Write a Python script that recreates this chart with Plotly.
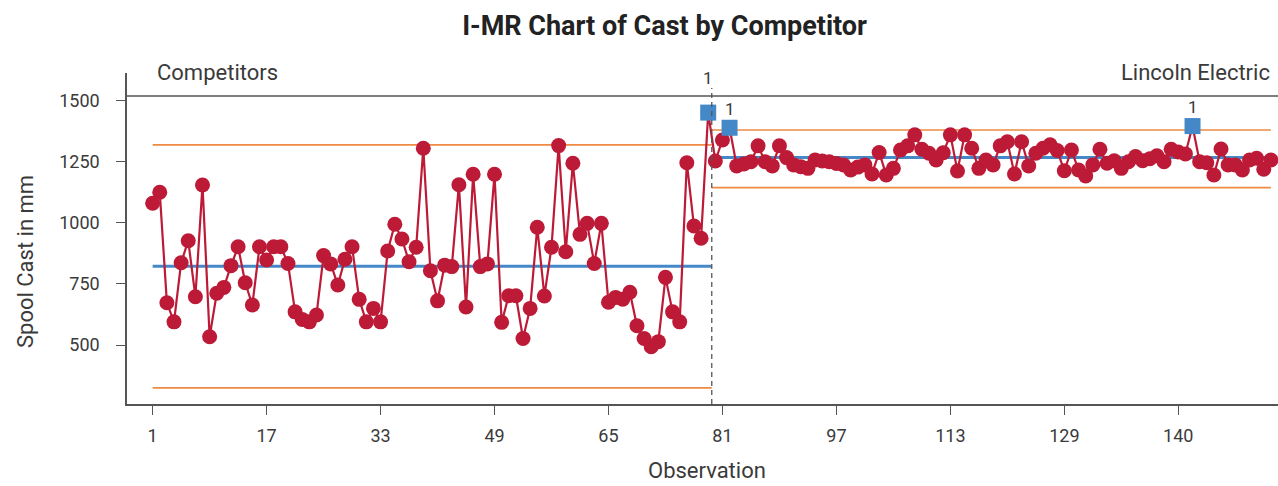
import plotly.graph_objects as go

# ---------------- data ----------------
group_names = ["Competitors", "Lincoln Electric"]

competitors_cast = [
    1080, 1125, 673, 595, 837, 927, 698, 1155, 534, 712,
    736, 825, 902, 755, 664, 902, 848, 902, 902, 834,
    636, 605, 595, 623, 866, 832, 746, 851, 902, 687,
    595, 650, 595, 885, 994, 934, 841, 900, 1305, 804,
    681, 827, 821, 1156, 656, 1199, 821, 832, 1199, 593,
    702, 702, 527, 650, 982, 701, 900, 1316, 882, 1244,
    953, 998, 834, 998, 675, 695, 688, 716, 579, 527,
    493, 514, 777, 636, 595, 1246, 987, 937, 1451,
]

lincoln_cast = [
    1253, 1339, 1389, 1233, 1241, 1250, 1315, 1250, 1233, 1315,
    1267, 1237, 1230, 1223, 1257, 1253, 1250, 1243, 1237, 1216,
    1228, 1237, 1200, 1288, 1196, 1223, 1298, 1315, 1360, 1301,
    1285, 1257, 1287, 1360, 1212, 1360, 1305, 1223, 1257, 1237,
    1315, 1332, 1200, 1332, 1233, 1285, 1305, 1319, 1296, 1213,
    1298, 1216, 1192, 1237, 1301, 1244, 1254, 1223, 1250, 1271,
    1254, 1262, 1274, 1250, 1301, 1290, 1282, 1396, 1250, 1246,
    1196, 1302, 1237, 1237, 1216, 1257, 1264, 1219, 1257,
]

center_lines = [822, 1267]
upper_limits = [1319, 1380]
lower_limits = [325, 1144]

x_tick_values = [1, 17, 33, 49, 65, 81, 97, 113, 129, 145]
x_tick_labels = ["1", "17", "33", "49", "65", "81", "97", "113", "129", "140"]
y_tick_values = [500, 750, 1000, 1250, 1500]

# ---------------- derived ----------------
values = competitors_cast + lincoln_cast
obs = list(range(1, len(values) + 1))
n1 = len(competitors_cast)
split = n1 + 0.5
segments = [(1, split), (split, len(values))]
group_of = [0] * n1 + [1] * len(lincoln_cast)

FONT = "Roboto, sans-serif"
RED = "#BC1A36"
BLUE = "#4588C8"
ORANGE = "#EE8A45"
AXIS = "#555555"
TXT = "#3a3a3a"

fig = go.Figure()

# control limits
for g, (x0, x1) in enumerate(segments):
    for lim in (upper_limits[g], lower_limits[g]):
        fig.add_trace(go.Scatter(x=[x0, x1], y=[lim, lim], mode="lines",
                                 line=dict(color=ORANGE, width=1.6),
                                 hoverinfo="skip", showlegend=False))
    fig.add_trace(go.Scatter(x=[x0, x1], y=[center_lines[g], center_lines[g]], mode="lines",
                             line=dict(color=BLUE, width=3),
                             hoverinfo="skip", showlegend=False))

# data line
fig.add_trace(go.Scatter(x=obs, y=values, mode="lines+markers",
                         line=dict(color=RED, width=2.2),
                         marker=dict(color=RED, size=15, line=dict(width=0)),
                         showlegend=False))

# out-of-control points
ooc_x, ooc_y = [], []
for x, v, g in zip(obs, values, group_of):
    if v > upper_limits[g] or v < lower_limits[g]:
        ooc_x.append(x)
        ooc_y.append(v)
fig.add_trace(go.Scatter(x=ooc_x, y=ooc_y, mode="markers",
                         marker=dict(color=BLUE, symbol="square", size=16, line=dict(width=0)),
                         showlegend=False))

annotations = []
for x, v in zip(ooc_x, ooc_y):
    shift = 35 if v > 1430 else 19
    annotations.append(dict(x=x, y=v, xref="x", yref="y", text="1", showarrow=False,
                            yshift=shift, font=dict(family=FONT, size=17, color=TXT)))

# panel labels
annotations.append(dict(x=0.0243, y=1.003, xref="paper", yref="paper", text=group_names[0],
                        xanchor="left", yanchor="middle", showarrow=False,
                        font=dict(family=FONT, size=22, color=TXT)))
annotations.append(dict(x=0.9948, y=1.003, xref="paper", yref="paper", text=group_names[1],
                        xanchor="right", yanchor="middle", showarrow=False,
                        font=dict(family=FONT, size=22, color=TXT)))
# axis titles
annotations.append(dict(x=0.504, y=-0.2024, xref="paper", yref="paper", text="Observation",
                        xanchor="center", yanchor="middle", showarrow=False,
                        font=dict(family=FONT, size=22, color=TXT)))
annotations.append(dict(x=-0.0886, y=0.429, xref="paper", yref="paper", text="Spool Cast in mm",
                        xanchor="center", yanchor="middle", showarrow=False, textangle=-90,
                        font=dict(family=FONT, size=22, color=TXT)))

shapes = [
    dict(type="line", xref="paper", yref="paper", x0=0, x1=1, y0=0.9305, y1=0.9305,
         line=dict(color=AXIS, width=1.5)),
    dict(type="line", xref="x", yref="paper", x0=split, x1=split, y0=0, y1=0.955,
         line=dict(color=AXIS, width=1.3, dash="5px,4px")),
]

fig.update_layout(
    width=1278, height=486,
    margin=dict(l=127, r=0, t=73, b=82),
    paper_bgcolor="white", plot_bgcolor="white",
    title=dict(text="<b>I-MR Chart of Cast by Competitor</b>", x=0.52, xref="container",
               xanchor="center", y=0.947, yref="container", yanchor="middle",
               font=dict(family=FONT, size=27, color="#222222")),
    annotations=annotations, shapes=shapes,
    font=dict(family=FONT, color=TXT),
)
fig.update_xaxes(range=[-2.6, 159.0], tickmode="array", tickvals=x_tick_values, ticktext=x_tick_labels,
                 showline=True, linecolor=AXIS, linewidth=1.5, ticks="outside", ticklen=9,
                 tickcolor=AXIS, tickwidth=1.3, showgrid=False, zeroline=False,
                 ticklabelstandoff=6, tickfont=dict(family=FONT, size=18, color=TXT))
fig.update_yaxes(range=[259, 1613], tickmode="array", tickvals=y_tick_values,
                 showline=True, linecolor=AXIS, linewidth=1.5, ticks="outside", ticklen=9,
                 tickcolor=AXIS, tickwidth=1.3, showgrid=False, zeroline=False,
                 ticklabelstandoff=13, tickfont=dict(family=FONT, size=18, color=TXT))

fig.write_html("out.html", config={"displayModeBar": False},
               post_script="document.body.style.margin='0px';")
